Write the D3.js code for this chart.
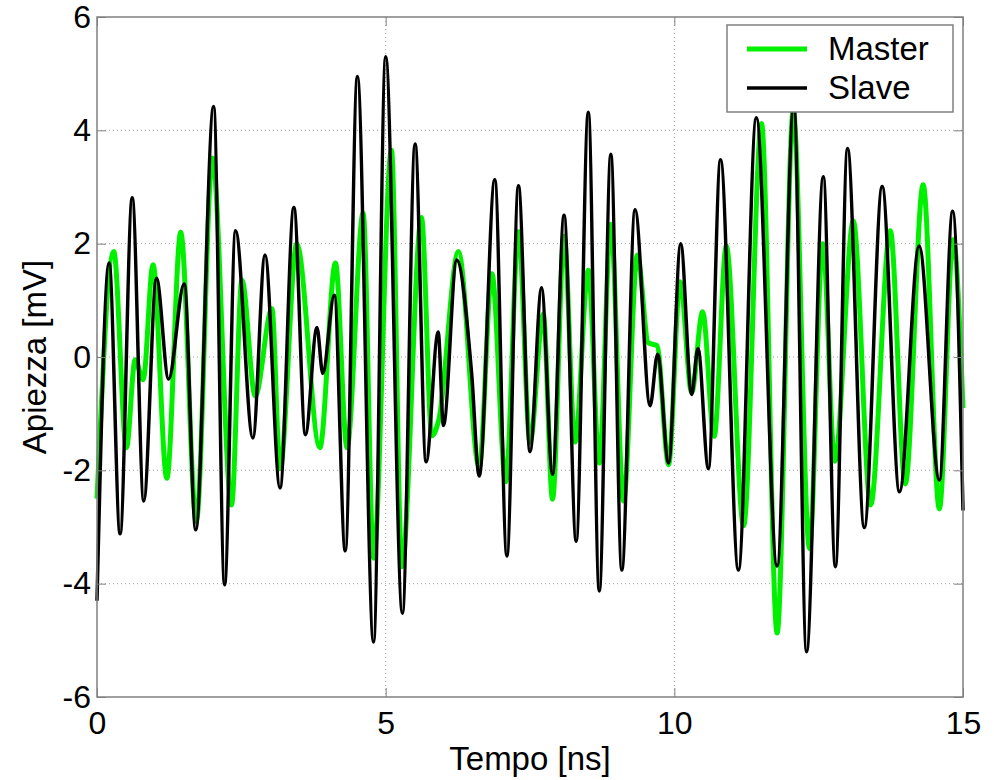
<!DOCTYPE html>
<html>
<head>
<meta charset="utf-8">
<script src="https://d3js.org/d3.v7.min.js"></script>
<style>
  body { margin: 0; background: #fff; }
  text { font-family: "Liberation Sans", Arial, sans-serif; fill: #000; }
</style>
</head>
<body>
<div id="chart"></div>
<script>
// time axis values (ns) and amplitude (mV), at the turning points
var slaveTime = [0, 0.21, 0.40, 0.61, 0.81, 1.03, 1.24, 1.51, 1.71, 2.02, 2.21, 2.40, 2.70, 2.91,
  3.17, 3.41, 3.61, 3.81, 3.91, 4.11, 4.30, 4.51, 4.79, 5.0, 5.29, 5.51, 5.70, 5.91, 6.00, 6.23,
  6.49, 6.62, 6.89, 7.10, 7.30, 7.50, 7.70, 7.89, 8.09, 8.30, 8.51, 8.70, 8.90, 9.09, 9.32, 9.58,
  9.71, 9.90, 10.11, 10.30, 10.41, 10.59, 10.80, 11.11, 11.42, 11.78, 12.07, 12.29, 12.58, 12.79,
  13.0, 13.29, 13.60, 13.90, 14.24, 14.59, 14.82, 15.0];
var slaveValues = [-4.3, 1.66, -3.12, 2.81, -2.54, 1.39, -0.39, 1.29, -3.05, 4.42, -4.02, 2.23, -1.43, 1.80,
  -2.31, 2.64, -1.37, 0.52, -0.29, 1.09, -3.42, 4.95, -5.03, 5.30, -4.52, 3.76, -1.85, 0.44, -1.21, 1.71,
  -0.30, -2.10, 3.13, -3.51, 3.02, -1.67, 1.22, -2.07, 2.50, -3.25, 4.32, -4.13, 3.58, -3.76, 2.60, -0.86,
  0.05, -1.87, 2.0, -0.66, 0.15, -1.97, 3.48, -3.76, 4.22, -3.69, 4.45, -5.2, 3.18, -3.70,
  3.68, -3.01, 3.01, -2.38, 1.96, -2.17, 2.57, -2.71];

var masterTime = [0, 0.29, 0.51, 0.66, 0.80, 0.97, 1.21, 1.45, 1.72, 2.00, 2.33, 2.51, 2.74, 3.03,
  3.17, 3.46, 3.86, 4.13, 4.33, 4.61, 4.79, 5.10, 5.28, 5.62, 5.80, 5.92, 6.26, 6.62, 6.84, 7.08,
  7.30, 7.50, 7.73, 7.89, 8.09, 8.28, 8.51, 8.70, 8.90, 9.12, 9.36, 9.55, 9.70, 9.90, 10.10, 10.30,
  10.49, 10.69, 10.90, 11.20, 11.51, 11.78, 12.06, 12.34, 12.57, 12.78, 13.10, 13.40, 13.74, 14.00,
  14.31, 14.59, 14.83, 15.0];
var masterValues = [-2.5, 1.86, -1.60, -0.05, -0.40, 1.63, -2.14, 2.20, -2.9, 3.51, -2.61, 1.36, -0.69, 0.85,
  -1.97, 2.0, -1.60, 1.66, -1.6, 2.54, -3.55, 3.65, -3.7, 2.46, -1.39, -1.11, 1.86, -1.95, 1.47, -2.2,
  2.21, -1.5, 0.76, -2.51, 2.13, -1.50, 1.53, -1.87, 2.34, -2.54, 1.80, 0.25, 0.20, -1.90, 1.33, -0.63,
  0.80, -1.40, 1.96, -2.98, 4.12, -4.87, 4.35, -3.38, 2.0, -1.84, 2.40, -2.61, 2.23, -2.24,
  3.04, -2.68, 2.07, -0.9];

var xTicks = [0, 5, 10, 15];
var yTicks = [-6, -4, -2, 0, 2, 4, 6];
var seriesNames = ["Master", "Slave"];

var svgWidth = 994;
var svgHeight = 780;

var margin = {
  top: 17,
  right: 31,
  bottom: 83,
  left: 97
};

var width = svgWidth - margin.left - margin.right;
var height = svgHeight - margin.top - margin.bottom;

var svg = d3
  .select("#chart")
  .append("svg")
  .attr("width", svgWidth)
  .attr("height", svgHeight);

var chartGroup = svg.append("g")
  .attr("transform", `translate(${margin.left}, ${margin.top})`);

// scales
var xLinearScale = d3.scaleLinear()
  .domain([0, 15])
  .range([0, width]);

var yLinearScale = d3.scaleLinear()
  .domain([-6, 6])
  .range([height, 0]);

// dotted grid, only on the inner ticks
chartGroup.append("g")
  .selectAll("line")
  .data(xTicks.filter(d => d > 0 && d < 15))
  .enter()
  .append("line")
  .attr("x1", d => xLinearScale(d))
  .attr("x2", d => xLinearScale(d))
  .attr("y1", 0)
  .attr("y2", height)
  .attr("stroke", "#a0a0a0")
  .attr("stroke-width", 1)
  .attr("stroke-dasharray", "1,3");

chartGroup.append("g")
  .selectAll("line")
  .data(yTicks.filter(d => d > -6 && d < 6))
  .enter()
  .append("line")
  .attr("x1", 0)
  .attr("x2", width)
  .attr("y1", d => yLinearScale(d))
  .attr("y2", d => yLinearScale(d))
  .attr("stroke", "#a0a0a0")
  .attr("stroke-width", 1)
  .attr("stroke-dasharray", "1,3");

// the two traces
var masterData = masterTime.map((t, i) => ({ t: t, v: masterValues[i] }));
var slaveData = slaveTime.map((t, i) => ({ t: t, v: slaveValues[i] }));

var line = d3.line()
  .x(d => xLinearScale(d.t))
  .y(d => yLinearScale(d.v))
  .curve(d3.curveMonotoneX);

chartGroup.append("path")
  .datum(masterData)
  .attr("d", line)
  .attr("fill", "none")
  .attr("stroke", "#00f000")
  .attr("stroke-width", 5)
  .attr("stroke-linejoin", "round");

chartGroup.append("path")
  .datum(slaveData)
  .attr("d", line)
  .attr("fill", "none")
  .attr("stroke", "#000")
  .attr("stroke-width", 3.5)
  .attr("stroke-linejoin", "round");

// axes, matlab style: ticks inside, on all four sides
var tickLen = 9;
var plainFormat = d => String(d);   // keep the hyphen minus of the original
var bottomAxis = d3.axisBottom(xLinearScale).tickValues(xTicks).tickFormat(plainFormat)
  .tickSizeInner(-tickLen).tickSizeOuter(0).tickPadding(14);
var topAxis = d3.axisTop(xLinearScale).tickValues(xTicks).tickSizeInner(-tickLen).tickSizeOuter(0).tickFormat("");
var leftAxis = d3.axisLeft(yLinearScale).tickValues(yTicks).tickFormat(plainFormat)
  .tickSizeInner(-tickLen).tickSizeOuter(0).tickPadding(6);
var rightAxis = d3.axisRight(yLinearScale).tickValues(yTicks).tickSizeInner(-tickLen).tickSizeOuter(0).tickFormat("");

var xAxis = chartGroup.append("g")
  .attr("transform", `translate(0, ${height})`)
  .call(bottomAxis);
chartGroup.append("g").call(topAxis);
var yAxis = chartGroup.append("g").call(leftAxis);
chartGroup.append("g").attr("transform", `translate(${width}, 0)`).call(rightAxis);

chartGroup.selectAll(".domain").remove();
chartGroup.selectAll(".tick line").attr("stroke", "#808080");
chartGroup.selectAll(".tick text")
  .attr("font-size", "32px")
  .attr("fill", "#000");

// box
chartGroup.append("rect")
  .attr("x", 0)
  .attr("y", 0)
  .attr("width", width)
  .attr("height", height)
  .attr("fill", "none")
  .attr("stroke", "#808080")
  .attr("stroke-width", 1.5);

// axis labels
chartGroup.append("text")
  .attr("x", width / 2)
  .attr("y", height + 73)
  .attr("text-anchor", "middle")
  .attr("font-size", "33px")
  .text("Tempo [ns]");

chartGroup.append("text")
  .attr("transform", "rotate(-90)")
  .attr("x", 0 - (height / 2))
  .attr("y", 46 - margin.left)
  .attr("text-anchor", "middle")
  .attr("font-size", "33px")
  .text("Apiezza [mV]");

// legend
var legend = svg.append("g")
  .attr("transform", "translate(727, 25)");

legend.append("rect")
  .attr("width", 226)
  .attr("height", 87)
  .attr("fill", "#fff")
  .attr("stroke", "#808080")
  .attr("stroke-width", 1.5);

var legendColors = ["#00f000", "#000"];
var legendWidths = [5, 3.5];

seriesNames.forEach(function(name, i) {
  var ly = 24 + i * 39;
  legend.append("line")
    .attr("x1", 20)
    .attr("x2", 80)
    .attr("y1", ly)
    .attr("y2", ly)
    .attr("stroke", legendColors[i])
    .attr("stroke-width", legendWidths[i]);
  legend.append("text")
    .attr("x", 101)
    .attr("y", ly + 11)
    .attr("font-size", "33px")
    .text(name);
});
</script>
</body>
</html>
